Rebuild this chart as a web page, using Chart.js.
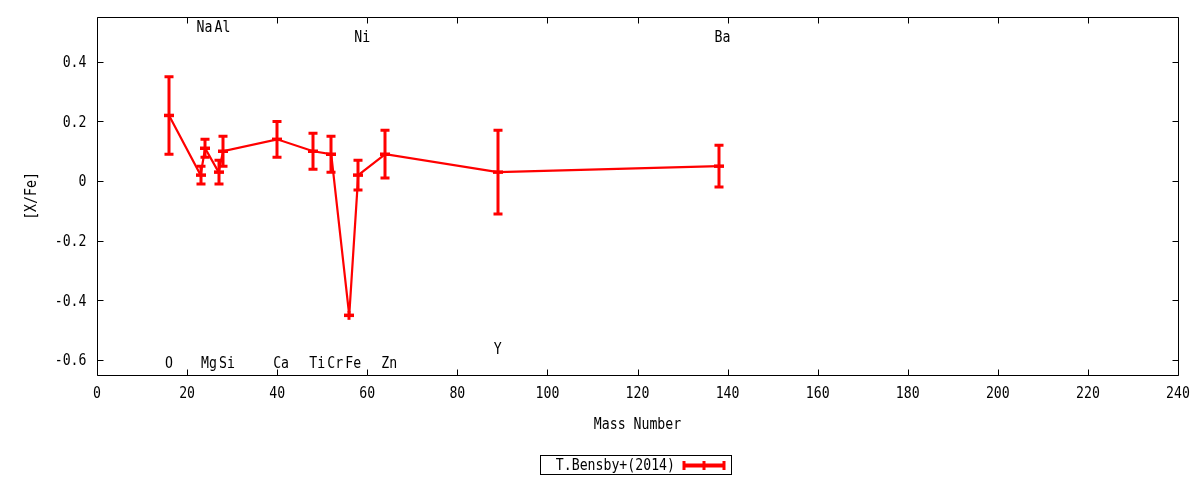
<!DOCTYPE html>
<html>
<head>
<meta charset="utf-8">
<script src="https://cdn.jsdelivr.net/npm/chart.js@4.4.1/dist/chart.umd.min.js"></script>
<style>
  html, body { margin: 0; padding: 0; background: #fff; }
  #wrap { width: 1200px; height: 480px; }
</style>
</head>
<body>
<div id="wrap"><canvas id="c" width="1200" height="480"></canvas></div>
<script>
// ---- data ----
const elements  = ["O", "Na", "Mg", "Al", "Si", "Ca", "Ti", "Cr", "Fe", "Ni", "Zn", "Y", "Ba"];
const massNumber = [16, 23, 24, 27, 28, 40, 48, 52, 56, 58, 64, 89, 138];
const xFe       = [0.22, 0.02, 0.11, 0.03, 0.10, 0.14, 0.10, 0.09, -0.45, 0.02, 0.09, 0.03, 0.05];
const xFeErr    = [0.13, 0.03, 0.03, 0.04, 0.05, 0.06, 0.06, 0.06, 0.0, 0.05, 0.08, 0.14, 0.07];
const labelY    = [-0.615, 0.513, -0.615, 0.513, -0.615, -0.615, -0.615, -0.615, -0.615, 0.478, -0.615, -0.567, 0.478];
const xTicks    = [0, 20, 40, 60, 80, 100, 120, 140, 160, 180, 200, 220, 240];
const yTicks    = [-0.6, -0.4, -0.2, 0, 0.2, 0.4];
const seriesName = "T.Bensby+(2014)";
const xTitle = "Mass Number";
const yTitle = "[X/Fe]";

const RED = "#ff0000";
const FONT = "15px 'DejaVu Sans Mono'";
const SX = 0.88;

function fmtY(v) { return Math.abs(v) < 1e-9 ? "0" : String(Math.round(v * 10) / 10); }

function drawText(ctx, s, x, y, align, rot) {
  ctx.save();
  ctx.translate(x, y);
  if (rot) ctx.rotate(rot);
  ctx.scale(SX, 1);
  ctx.font = FONT;
  ctx.fillStyle = "#000";
  ctx.textAlign = align;
  ctx.textBaseline = "middle";
  ctx.fillText(s, 0, 0);
  ctx.restore();
}

const points = massNumber.map((m, i) => ({ x: m, y: xFe[i] }));

const decor = {
  id: "decor",
  afterDatasetsDraw(chart) {
    const ctx = chart.ctx;
    const xs = chart.scales.x, ys = chart.scales.y;
    ctx.save();
    ctx.strokeStyle = RED;
    ctx.lineCap = "butt";
    for (let i = 0; i < massNumber.length; i++) {
      const px = Math.round(xs.getPixelForValue(massNumber[i]));
      const py = ys.getPixelForValue(xFe[i]);
      const pt = ys.getPixelForValue(xFe[i] + xFeErr[i]);
      const pb = ys.getPixelForValue(xFe[i] - xFeErr[i]);
      ctx.lineWidth = 3;
      ctx.beginPath();
      ctx.moveTo(px, Math.min(pt - 1.5, py - 4.5)); ctx.lineTo(px, Math.max(pb + 1.5, py + 4.5));
      if (xFeErr[i] > 0) {
        ctx.moveTo(px - 4.5, pt); ctx.lineTo(px + 4.5, pt);
        ctx.moveTo(px - 4.5, pb); ctx.lineTo(px + 4.5, pb);
      }
      ctx.stroke();
      ctx.lineWidth = 3.5;
      ctx.beginPath();
      ctx.moveTo(px - 5, py); ctx.lineTo(px + 5, py);
      ctx.stroke();
    }
    ctx.restore();
  },
  afterDraw(chart) {
    const ctx = chart.ctx;
    const xs = chart.scales.x, ys = chart.scales.y;
    const a = chart.chartArea;
    ctx.save();
    ctx.strokeStyle = "#000";
    ctx.lineWidth = 1;
    const L = Math.round(a.left) + 0.5, R = Math.round(a.right) + 0.5;
    const T = Math.round(a.top) + 0.5, B = Math.round(a.bottom) + 0.5;
    ctx.beginPath();
    ctx.rect(L, T, R - L, B - T);
    ctx.stroke();
    const tl = 6;
    ctx.beginPath();
    xTicks.forEach(v => {
      const p = Math.round(xs.getPixelForValue(v)) + 0.5;
      ctx.moveTo(p, B); ctx.lineTo(p, B - tl);
      ctx.moveTo(p, T); ctx.lineTo(p, T + tl);
    });
    yTicks.forEach(v => {
      const p = Math.round(ys.getPixelForValue(v)) + 0.5;
      ctx.moveTo(L, p); ctx.lineTo(L + tl, p);
      ctx.moveTo(R, p); ctx.lineTo(R - tl, p);
    });
    ctx.stroke();

    // tick labels
    xTicks.forEach(v => drawText(ctx, String(v), xs.getPixelForValue(v), 394.5, "center"));
    yTicks.forEach(v => drawText(ctx, fmtY(v), 86.5, ys.getPixelForValue(v) + 1.5, "right"));

    // element labels
    elements.forEach((e, i) => {
      drawText(ctx, e, xs.getPixelForValue(massNumber[i]) - 4, ys.getPixelForValue(labelY[i]), "left");
    });

    // axis titles
    drawText(ctx, xTitle, (a.left + a.right) / 2, 425, "center");
    drawText(ctx, yTitle, 32, (a.top + a.bottom) / 2, "center", -Math.PI / 2);

    // legend
    const lx = 540.5, ly = 455.5, lw = 191, lh = 19;
    ctx.strokeStyle = "#000";
    ctx.lineWidth = 1;
    ctx.strokeRect(lx, ly, lw, lh);
    drawText(ctx, seriesName, 675, 466, "right");
    ctx.strokeStyle = RED;
    ctx.lineWidth = 4;
    ctx.beginPath();
    ctx.moveTo(683, 465.5); ctx.lineTo(725, 465.5);
    ctx.stroke();
    ctx.lineWidth = 3;
    ctx.beginPath();
    ctx.moveTo(684, 461); ctx.lineTo(684, 470);
    ctx.moveTo(724, 461); ctx.lineTo(724, 470);
    ctx.moveTo(704, 461); ctx.lineTo(704, 470);
    ctx.stroke();
    ctx.restore();
  }
};

new Chart(document.getElementById("c"), {
  type: "scatter",
  data: {
    datasets: [{
      label: seriesName,
      data: points,
      showLine: true,
      borderColor: RED,
      backgroundColor: RED,
      borderWidth: 2.2,
      pointRadius: 0,
      pointHoverRadius: 0,
      tension: 0
    }]
  },
  options: {
    responsive: false,
    animation: false,
    devicePixelRatio: 1,
    events: [],
    layout: { padding: { top: 17, right: 22, left: 0, bottom: 0 } },
    plugins: { legend: { display: false }, tooltip: { enabled: false } },
    scales: {
      x: {
        type: "linear",
        min: 0, max: 240,
        grid: { display: false },
        border: { display: false },
        afterBuildTicks: s => { s.ticks = xTicks.map(v => ({ value: v })); },
        afterFit: s => { s.height = 105; },
        ticks: { display: false }
      },
      y: {
        type: "linear",
        min: -0.65, max: 0.55,
        grid: { display: false },
        border: { display: false },
        afterBuildTicks: s => { s.ticks = yTicks.map(v => ({ value: v })); },
        afterFit: s => { s.width = 97; },
        ticks: { display: false }
      }
    }
  },
  plugins: [decor]
});
</script>
</body>
</html>
